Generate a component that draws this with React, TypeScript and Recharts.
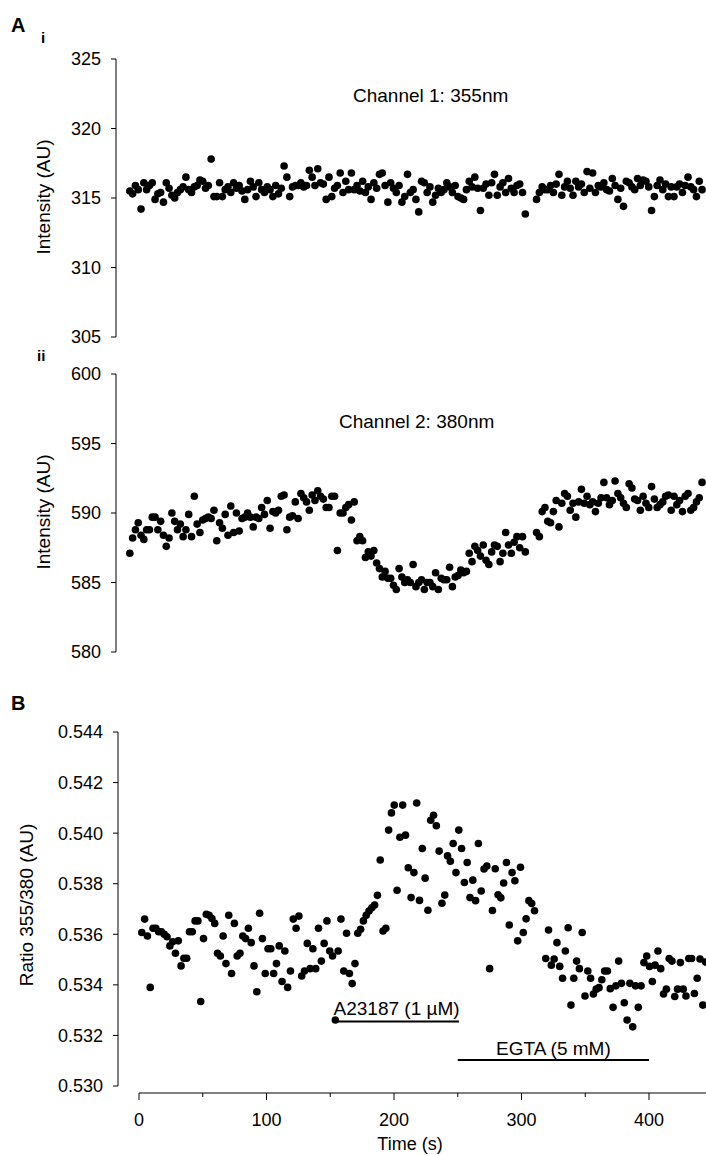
import React from 'react';
import { ScatterChart, Scatter, XAxis, YAxis, ReferenceLine } from 'recharts';

// sample times (s)
const time = [
  2.2, 4.4, 6.6, 8.8, 11, 13.2, 15.4, 17.6, 19.8, 22,
  24.2, 26.4, 28.6, 30.8, 33, 35.2, 37.4, 39.6, 41.8, 44,
  46.2, 48.4, 50.6, 52.8, 55, 57.2, 59.4, 61.6, 63.8, 66,
  68.2, 70.4, 72.6, 74.8, 77, 79.2, 81.4, 83.6, 85.8, 88,
  90.2, 92.4, 94.6, 96.8, 99, 101.2, 103.4, 105.6, 107.8, 110,
  112.2, 114.4, 116.6, 118.8, 121, 123.2, 125.4, 127.6, 129.8, 132,
  134.2, 136.4, 138.6, 140.8, 143, 145.2, 147.4, 149.6, 151.8, 154,
  156.2, 158.4, 160.6, 162.8, 165, 167.2, 169.4, 171.6, 173.8, 176,
  178.2, 180.4, 182.6, 184.8, 187, 189.2, 191.4, 193.6, 195.8, 198,
  200.2, 202.4, 204.6, 206.8, 209, 211.2, 213.4, 215.6, 217.8, 220,
  222.2, 224.4, 226.6, 228.8, 231, 233.2, 235.4, 237.6, 239.8, 242,
  244.2, 246.4, 248.6, 250.8, 253, 255.2, 257.4, 259.6, 261.8, 264,
  266.2, 268.4, 270.6, 272.8, 275, 277.2, 279.4, 281.6, 283.8, 286,
  288.2, 290.4, 292.6, 294.8, 297, 299.2, 301.4, 303.6, 305.8, 308,
  310.2, 312.4, 314.6, 316.8, 319, 321.2, 323.4, 325.6, 327.8, 330,
  332.2, 334.4, 336.6, 338.8, 341, 343.2, 345.4, 347.6, 349.8, 352,
  354.2, 356.4, 358.6, 360.8, 363, 365.2, 367.4, 369.6, 371.8, 374,
  376.2, 378.4, 380.6, 382.8, 385, 387.2, 389.4, 391.6, 393.8, 396,
  398.2, 400.4, 402.6, 404.8, 407, 409.2, 411.4, 413.6, 415.8, 418,
  420.2, 422.4, 424.6, 426.8, 429, 431.2, 433.4, 435.6, 437.8, 440,
  442.2, 444.4, 446.6, 448.8, 451,
];

// channel 1, 355 nm (AU); null = no reading
const ch355: (number | null)[] = [
  315.5, 315.3, 315.9, 315.6, 314.2, 316.1, 315.6, 315.9, 316.1, 314.9,
  315.3, 315.4, 314.7, 316.1, 315.7, 315.2, 315.0, 315.4, 315.6, 315.8,
  316.5, 315.6, 315.4, 315.8, 315.9, 316.3, 316.2, 315.7, 315.9, 317.8,
  315.1, 315.1, 316.1, 315.1, 315.6, 315.8, 315.4, 316.1, 315.7, 315.9,
  315.5, 314.9, 315.6, 316.2, 315.8, 315.1, 316.1, 315.6, 315.4, 315.8,
  315.6, 315.1, 315.9, 315.3, 315.7, 317.3, 316.5, 315.1, 315.8, 315.9,
  315.9, 316.1, 315.8, 315.9, 317.0, 316.5, 315.9, 317.1, 316.1, 316.0,
  314.9, 316.5, 315.1, 315.7, 315.9, 316.8, 315.4, 316.2, 315.6, 316.8,
  315.6, 315.9, 315.5, 316.2, 315.4, 315.8, 314.9, 316.1, 315.7, 316.7,
  316.8, 315.9, 314.7, 316.1, 315.7, 315.4, 315.9, 314.7, 315.1, 316.7,
  315.4, 315.6, 314.9, 314.0, 316.2, 316.1, 315.4, 315.8, 314.7, 315.2,
  315.7, 315.4, 315.6, 316.1, 315.8, 315.4, 315.9, 315.1, 315.0, 314.9,
  315.6, 316.2, 315.8, 316.5, 315.7, 314.1, 315.7, 316.0, 315.2, 316.1,
  316.7, 315.2, 315.8, 316.1, 315.4, 316.4, 315.7, 315.4, 315.9, 316.0,
  315.4, 313.85, null, null, null, 314.9, 315.4, 315.8, 315.6, 315.6,
  315.9, 315.4, 316.0, 316.7, 315.2, 315.8, 316.2, 315.7, 315.2, 316.2,
  315.8, 316.0, 315.4, 316.9, 315.7, 316.8, 315.4, 315.9, 315.8, 316.1,
  315.6, 315.5, 316.4, 315.9, 314.9, 315.7, 314.4, 316.2, 316.1, 315.8,
  315.6, 316.4, 315.9, 316.3, 316.2, 315.8, 314.1, 315.1, 315.9, 316.3,
  315.6, 316.0, 315.1, 315.8, 315.1, 315.8, 316.0, 315.4, 315.9, 316.5,
  315.8, 315.6, 315.1, 316.2, 315.6,
];

// channel 2, 380 nm (AU)
const ch380: (number | null)[] = [
  587.1, 588.2, 588.8, 589.3, 588.4, 588.1, 588.8, 588.8, 589.7, 589.7,
  588.8, 589.4, 588.4, 587.6, 588.2, 590.0, 589.4, 588.8, 589.2, 588.3,
  588.8, 589.9, 588.3, 591.2, 589.2, 588.6, 589.5, 589.6, 589.7, 589.6,
  590.2, 588.0, 589.3, 588.9, 589.9, 588.4, 590.5, 588.6, 590.0, 588.7,
  589.6, 589.7, 590.0, 589.7, 589.0, 589.7, 589.6, 590.4, 589.9, 590.9,
  588.9, 590.1, 590.0, 590.2, 591.2, 591.3, 588.8, 589.7, 589.8, 590.8,
  589.6, 591.4, 591.1, 590.8, 590.2, 591.3, 590.9, 591.6, 591.2, 591.0,
  590.4, 590.4, 591.2, 591.2, 587.3, 590.0, 590.0, 590.4, 590.6, 589.5,
  590.8, 588.0, 588.3, 588.0, 586.8, 587.2, 586.9, 587.3, 586.4, 586.0,
  585.4, 585.8, 585.3, 585.3, 584.8, 584.5, 586.0, 585.4, 585.0, 585.2,
  585.0, 586.3, 584.7, 585.0, 585.2, 584.5, 585.0, 585.0, 584.7, 585.7,
  584.5, 585.3, 585.2, 585.2, 586.1, 584.7, 585.4, 585.5, 585.9, 585.7,
  585.8, 587.1, 586.5, 587.6, 587.3, 586.9, 587.7, 586.6, 586.3, 587.2,
  587.7, 587.6, 586.5, 587.1, 588.6, 587.7, 587.1, 587.9, 588.3, 587.5,
  588.3, 587.2, null, null, null, 588.6, 588.3, 590.1, 590.4, 589.4,
  589.3, 590.1, 590.9, 589.0, 590.7, 591.4, 591.2, 590.2, 590.7, 589.7,
  590.8, 591.7, 590.7, 591.2, 590.6, 590.8, 590.1, 590.7, 591.1, 592.2,
  591.1, 590.6, 590.9, 592.3, 591.4, 591.1, 590.7, 590.4, 592.1, 591.8,
  591.0, 590.9, 590.2, 591.2, 590.7, 590.4, 591.9, 591.0, 590.4, 590.6,
  590.8, 591.2, 591.3, 590.2, 591.2, 590.6, 590.9, 590.1, 591.2, 591.4,
  590.2, 590.4, 590.8, 591.1, 592.2,
];

// ratio 355/380 (AU)
const ratio: (number | null)[] = [
  0.53607, 0.5366, 0.53593, 0.5339, 0.53624, 0.53624, 0.5361, 0.5361, 0.536, 0.5359,
  0.53554, 0.5357, 0.53525, 0.53574, 0.53475, 0.53505, 0.53505, 0.5361, 0.5361, 0.53653,
  0.53653, 0.53334, 0.53583, 0.53679, 0.53675, 0.53662, 0.53643, 0.53525, 0.53514, 0.53593,
  0.53484, 0.53675, 0.53445, 0.53643, 0.53514, 0.53525, 0.53593, 0.53583, 0.53624, 0.53567,
  0.53475, 0.53373, 0.53683, 0.53583, 0.53445, 0.53543, 0.53543, 0.53445, 0.53484, 0.53554,
  0.53413, 0.53534, 0.5339, 0.53455, 0.5366, 0.53624, 0.53672, 0.53435, 0.53455, 0.53564,
  0.53464, 0.53543, 0.53464, 0.53624, 0.53494, 0.53564, 0.53653, 0.53534, 0.53514, 0.53261,
  0.53534, 0.5366, 0.53455, 0.53604, 0.53445, 0.53405, 0.53484, 0.53604, 0.5362, 0.53653,
  0.53675, 0.53692, 0.53705, 0.53716, 0.53754, 0.53894, 0.53613, 0.53624, 0.54012, 0.5408,
  0.54111, 0.53774, 0.53984, 0.54111, 0.53992, 0.53863, 0.53745, 0.53844, 0.54119, 0.53734,
  0.53939, 0.53822, 0.53695, 0.54051, 0.54071, 0.54029, 0.53929, 0.53723, 0.53755, 0.5391,
  0.53889, 0.53959, 0.53844, 0.54012, 0.53939, 0.53805, 0.53884, 0.53745, 0.53814, 0.53733,
  0.53959, 0.53771, 0.53858, 0.5387, 0.53464, 0.53694, 0.53859, 0.53756, 0.53744, 0.53803,
  0.53884, 0.53637, 0.53844, 0.53812, 0.53574, 0.53865, 0.53607, 0.53661, 0.53733, 0.53722,
  0.53693, null, null, null, 0.53504, 0.53617, 0.53478, 0.53502, 0.53567, 0.53473,
  0.53426, 0.53534, 0.53626, 0.5332, 0.53426, 0.53494, 0.53464, 0.53607, 0.53356, 0.53455,
  0.53426, 0.53364, 0.53383, 0.53389, 0.5342, 0.53455, 0.53455, 0.53385, 0.53311, 0.53396,
  0.53494, 0.53406, 0.53329, 0.53261, 0.53406, 0.53234, 0.53396, 0.53311, 0.53396, 0.53488,
  0.53514, 0.53473, 0.53413, 0.53478, 0.53534, 0.53464, 0.53364, 0.53383, 0.53504, 0.53494,
  0.53354, 0.53383, 0.53488, 0.53383, 0.53356, 0.53504, 0.53504, 0.53366, 0.53426, 0.53502,
  0.5332, 0.5349,
];

const ticks355 = [305, 310, 315, 320, 325];
const ticks380 = [580, 585, 590, 595, 600];
const ticksRatio = [0.53, 0.532, 0.534, 0.536, 0.538, 0.54, 0.542, 0.544];
const ticksTime = [0, 50, 100, 150, 200, 250, 300, 350, 400];

// drug application bars
const drugNames = ['A23187 (1 µM)', 'EGTA (5 mM)'];
const drugStart = [153, 250];
const drugEnd = [251, 400];
const drugLevel = [0.53255, 0.53103];

const toPoints = (vals: (number | null)[]) =>
  vals
    .map((v, i) => ({ t: time[i], v }))
    .filter((d) => d.v !== null && d.v !== undefined);

const FONT = "Arial, 'Liberation Sans', sans-serif";
const RATIO_MIN = 0.53 - 7 / 25286;
const B_LEFT = -16.47;
const B_RIGHT = 444.7;

const Dot = (props: any) => <circle cx={props.cx} cy={props.cy} r={3.8} fill="#000" />;

const TimeTick = (props: any) => {
  const { x, y, payload } = props;
  const major = payload.value % 100 === 0;
  return (
    <g>
      <line x1={x} x2={x} y1={y} y2={y + (major ? 7 : 4)} stroke="#000" />
      {major && (
        <text x={x} y={y + 33} textAnchor="middle" fontSize={18} fill="#000">
          {payload.value}
        </text>
      )}
    </g>
  );
};

const yTick = { fontSize: 18, fill: '#000' };

const ChannelPanel = ({ data, domain, ticks, top, height, mTop, mBottom }: any) => (
  <div style={{ position: 'absolute', left: 0, top }}>
    <ScatterChart width={706} height={height} margin={{ top: mTop, right: 0, bottom: mBottom, left: 16 }}>
      <XAxis type="number" dataKey="t" domain={[-8.63, 454.1]} allowDataOverflow hide />
      <YAxis
        type="number"
        dataKey="v"
        domain={domain}
        ticks={ticks}
        interval={0}
        allowDataOverflow
        width={100}
        tick={yTick}
        tickSize={5}
        tickMargin={10}
        axisLine={{ stroke: '#000' }}
        tickLine={{ stroke: '#000' }}
      />
      <Scatter data={data} shape={Dot} isAnimationActive={false} />
    </ScatterChart>
  </div>
);

export default function App() {
  return (
    <div
      style={{
        position: 'absolute',
        left: 0,
        top: 0,
        width: 706,
        height: 1155,
        background: '#fff',
        fontFamily: FONT,
        overflow: 'hidden',
      }}
    >
      <ChannelPanel data={toPoints(ch355)} domain={[305, 325]} ticks={ticks355} top={0} height={352} mTop={59} mBottom={15} />
      <ChannelPanel data={toPoints(ch380)} domain={[580, 600]} ticks={ticks380} top={345} height={325} mTop={29} mBottom={18} />

      <div style={{ position: 'absolute', left: 0, top: 700 }}>
        <ScatterChart width={706} height={455} margin={{ top: 32, right: 0, bottom: 12, left: 18 }}>
          <XAxis
            type="number"
            dataKey="t"
            domain={[B_LEFT, B_RIGHT]}
            allowDataOverflow
            ticks={ticksTime}
            interval={0}
            height={50}
            axisLine={false}
            tickLine={false}
            tickSize={0}
            tickMargin={0}
            tick={<TimeTick />}
          />
          <YAxis
            type="number"
            dataKey="v"
            domain={[RATIO_MIN, 0.544]}
            ticks={ticksRatio}
            interval={0}
            allowDataOverflow
            width={100}
            tick={yTick}
            tickSize={5}
            tickMargin={10}
            tickFormatter={(v: number) => v.toFixed(3)}
            axisLine={false}
            tickLine={{ stroke: '#000' }}
          />
          <ReferenceLine
            segment={[{ x: B_LEFT, y: 0.53 }, { x: B_LEFT, y: 0.544 }]}
            stroke="#000"
            ifOverflow="visible"
          />
          <ReferenceLine
            segment={[{ x: 0, y: RATIO_MIN }, { x: B_RIGHT, y: RATIO_MIN }]}
            stroke="#000"
            ifOverflow="visible"
          />
          {drugNames.map((name, i) => (
            <ReferenceLine
              key={name}
              segment={[{ x: drugStart[i], y: drugLevel[i] }, { x: drugEnd[i], y: drugLevel[i] }]}
              stroke="#000"
              strokeWidth={2}
              ifOverflow="visible"
              label={{ value: name, position: 'top', offset: i === 0 ? 7 : 5, fontSize: 19, fill: '#000' }}
            />
          ))}
          <Scatter data={toPoints(ratio)} shape={Dot} isAnimationActive={false} />
        </ScatterChart>
      </div>

      <svg width={706} height={1155} style={{ position: 'absolute', left: 0, top: 0, pointerEvents: 'none' }}>
        <g fill="#000" fontFamily={FONT}>
          <text x={11} y={32} fontSize={20} fontWeight="bold">A</text>
          <text x={41} y={43} fontSize={15} fontWeight="bold">i</text>
          <text x={37} y={361} fontSize={15} fontWeight="bold">ii</text>
          <text x={11} y={710} fontSize={20} fontWeight="bold">B</text>

          <text transform="translate(50,197) rotate(-90)" textAnchor="middle" fontSize={19}>Intensity (AU)</text>
          <text transform="translate(50,512) rotate(-90)" textAnchor="middle" fontSize={19}>Intensity (AU)</text>
          <text transform="translate(33,905) rotate(-90)" textAnchor="middle" fontSize={19}>Ratio 355/380 (AU)</text>

          <text x={353} y={102} fontSize={19}>Channel 1: 355nm</text>
          <text x={339} y={428} fontSize={19}>Channel 2: 380nm</text>

          <text x={410} y={1150} textAnchor="middle" fontSize={18}>Time (s)</text>
        </g>
      </svg>
    </div>
  );
}
